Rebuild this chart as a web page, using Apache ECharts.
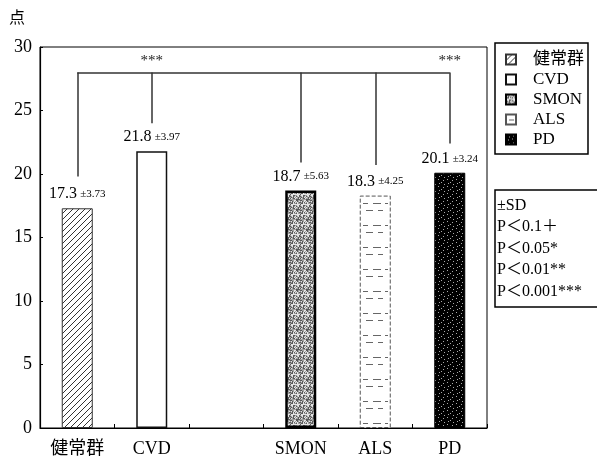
<!DOCTYPE html>
<html>
<head>
<meta charset="utf-8">
<script src="https://cdn.jsdelivr.net/npm/echarts@6/dist/echarts.min.js"></script>
<style>
  html, body { margin: 0; padding: 0; background: #fff; }
  #chart { width: 597px; height: 459px; }
</style>
</head>
<body>
<div id="chart"></div>
<script>
// data
const categories = ['健常群', 'CVD', '', 'SMON', 'ALS', 'PD'];
const groupNames = ['健常群', 'CVD', 'SMON', 'ALS', 'PD'];
const groupSlots = [0, 1, 3, 4, 5];
const means = [17.3, 21.8, 18.7, 18.3, 20.1];
const sds = ['3.73', '3.97', '5.63', '4.25', '3.24'];
const bracketTop = 28;
const bracketFeet = [19.8, 24.0, 20.9, 20.7, 22.4];
const starredGroups = [1, 4];
const starText = '***';
const noteLines = ['±SD', 'P＜0.1＋', 'P＜0.05*', 'P＜0.01**', 'P＜0.001***'];

const serif = "'Liberation Serif', 'DejaVu Serif', 'Noto Sans CJK JP', serif";

// fill textures for the bars
function makeTile(w, h, draw) {
  const c = document.createElement('canvas');
  c.width = w;
  c.height = h;
  draw(c.getContext('2d'), w, h);
  return { image: c, repeat: 'repeat' };
}

const hatch = makeTile(6, 6, (ctx) => {
  ctx.fillStyle = '#fff';
  ctx.fillRect(0, 0, 6, 6);
  ctx.strokeStyle = '#333';
  ctx.lineWidth = 1;
  ctx.beginPath();
  ctx.moveTo(0, 6); ctx.lineTo(6, 0);
  ctx.moveTo(-1, 1); ctx.lineTo(1, -1);
  ctx.moveTo(5, 7); ctx.lineTo(7, 5);
  ctx.stroke();
});

const stipple = makeTile(10, 10, (ctx, w, h) => {
  for (let x = 0; x < w; x++) {
    for (let y = 0; y < h; y++) {
      const v = (x * 7 + y * 3 + ((x * y) % 5)) % 6;
      ctx.fillStyle = v < 2 ? '#5a5a5a' : v < 4 ? '#a0a0a0' : '#e6e6e6';
      ctx.fillRect(x, y, 1, 1);
    }
  }
});

const dashes = makeTile(30, 22, (ctx) => {
  ctx.fillStyle = '#fff';
  ctx.fillRect(0, 0, 30, 22);
  ctx.fillStyle = '#666';
  ctx.fillRect(3, 5, 5, 1);
  ctx.fillRect(13, 5, 8, 1);
  ctx.fillRect(25, 5, 3, 1);
  ctx.fillRect(6, 12, 7, 1);
  ctx.fillRect(18, 12, 5, 1);
});

const speckle = makeTile(9, 7, (ctx, w, h) => {
  ctx.fillStyle = '#000';
  ctx.fillRect(0, 0, w, h);
  ctx.fillStyle = '#aaa';
  for (let x = 0; x < w; x++) {
    for (let y = 0; y < h; y++) {
      if ((x * 4 + y * 5) % 11 === 0) ctx.fillRect(x, y, 1, 1);
    }
  }
});

const barStyles = [
  { color: hatch, borderColor: '#333', borderWidth: 1 },
  { color: '#fff', borderColor: '#111', borderWidth: 1.5 },
  { color: stipple, borderColor: '#000', borderWidth: 2.5 },
  { color: dashes, borderColor: '#555', borderWidth: 1, borderType: 'dashed' },
  { color: speckle, borderColor: '#000', borderWidth: 1 },
];

const bracketLines = groupSlots.map((slot, i) => {
  const seg = [{ coord: [slot, bracketFeet[i]] }, { coord: [slot, bracketTop] }];
  if (starredGroups.includes(i)) {
    seg[0].label = { show: true, position: 'end', formatter: starText };
  }
  return seg;
});
bracketLines.push([{ coord: [groupSlots[0], bracketTop] }, { coord: [groupSlots[4], bracketTop] }]);

const series = groupNames.map((name, i) => ({
  name: name,
  type: 'bar',
  stack: 'groups',
  barWidth: 31,
  data: categories.map((c, j) => (j === groupSlots[i] ? means[i] : '-')),
  itemStyle: barStyles[i],
  label: {
    show: true,
    position: 'top',
    distance: 6,
    formatter: (p) => `{m|${p.value}} {s|±${sds[i]}}`,
    rich: {
      m: { fontFamily: serif, fontSize: 16, color: '#000' },
      s: { fontFamily: serif, fontSize: 11, color: '#000' },
    },
  },
}));

series[0].markLine = {
  silent: true,
  symbol: ['none', 'none'],
  lineStyle: { color: '#333', width: 1.5, type: 'solid' },
  label: {
    show: false,
    color: '#222',
    fontFamily: serif,
    fontSize: 15,
    distance: 4,
  },
  data: bracketLines,
};

const chart = echarts.init(document.getElementById('chart'));
chart.setOption({
  animation: false,
  backgroundColor: '#fff',
  title: {
    text: noteLines.join('\n'),
    left: 495,
    top: 190,
    padding: [5, 20, 5, 2],
    borderColor: '#000',
    borderWidth: 1.5,
    textStyle: {
      fontFamily: serif,
      fontSize: 16,
      fontWeight: 'normal',
      lineHeight: 21.5,
      color: '#000',
    },
  },
  legend: {
    orient: 'vertical',
    left: 495,
    top: 43,
    data: groupNames,
    icon: 'rect',
    itemWidth: 10,
    itemHeight: 10,
    itemGap: 3,
    padding: [8, 4, 6, 10],
    borderColor: '#000',
    borderWidth: 1.5,
    selectedMode: false,
    textStyle: { fontFamily: serif, fontSize: 17, color: '#000', padding: [0, 0, 0, 12] },
  },
  grid: {
    left: 40,
    top: 47,
    width: 447,
    height: 381,
    show: true,
    borderColor: '#000',
    borderWidth: 1,
  },
  xAxis: {
    type: 'category',
    data: categories,
    boundaryGap: true,
    axisLine: { lineStyle: { color: '#000', width: 1.2 } },
    axisTick: { show: true, inside: true, length: 4, lineStyle: { color: '#000' } },
    axisLabel: { interval: 0, fontFamily: serif, fontSize: 18, color: '#000', margin: 12 },
  },
  yAxis: {
    type: 'value',
    min: 0,
    max: 30,
    interval: 5,
    name: '点',
    nameLocation: 'end',
    nameGap: 20,
    nameTextStyle: { fontFamily: serif, fontSize: 16, color: '#000', align: 'right', padding: [0, 15, 0, 0] },
    axisLine: { show: true, lineStyle: { color: '#000', width: 1.2 } },
    axisTick: { show: true, inside: true, length: 3, lineStyle: { color: '#000' } },
    splitLine: { show: false },
    axisLabel: { fontFamily: serif, fontSize: 18, color: '#000', margin: 8 },
  },
  series: series,
});
</script>
</body>
</html>
